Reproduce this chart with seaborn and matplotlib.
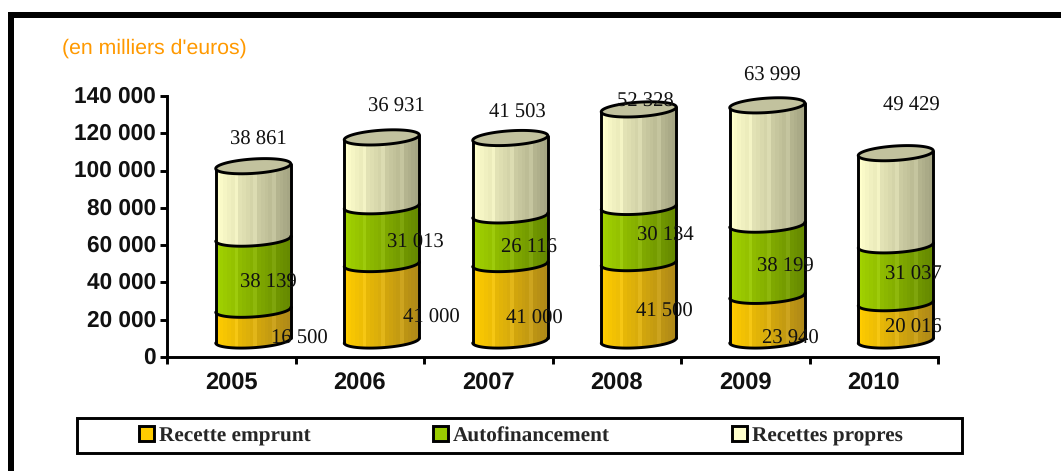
import numpy as np
import pandas as pd
import seaborn as sns
import matplotlib
matplotlib.use('Agg')
import matplotlib.pyplot as plt
from matplotlib.patches import Patch, Polygon, Rectangle
from matplotlib.transforms import ScaledTranslation

years = ['2005', '2006', '2007', '2008', '2009', '2010']
recette_emprunt = [16500, 41000, 41000, 41500, 23940, 20016]
autofinancement = [38139, 31013, 26116, 30134, 38199, 31037]
recettes_propres = [38861, 36931, 41503, 52328, 63999, 49429]
y_ticks = [0, 20000, 40000, 60000, 80000, 100000, 120000, 140000]

# label offsets from the middle of each segment, in pixels
emprunt_offsets = [(68.5, 2.8), (72, 1), (46.5, 0), (48, 6.5), (45.5, -4.1), (40, 10.5)]
auto_offsets = [(37.5, 7.9), (56, 8.9), (40.5, 8.4), (49, 15.8), (40.5, 10), (40, 16)]
propres_offsets = [(27.5, 79.1), (37, 81.5), (29.5, 80.4), (29, 72.9), (27.5, 105.7), (38, 110)]

W, H = 1061, 471
sns.set_theme(style='white')
plt.rcParams['font.family'] = ['Liberation Sans', 'DejaVu Sans']
plt.rcParams['text.hinting'] = 'none'

fig = plt.figure(figsize=(W / 100, H / 100), dpi=100)
ax = fig.add_axes([167 / W, (H - 357) / H, 771 / W, 261 / H])

df = pd.DataFrame({'year': years, 'emprunt': recette_emprunt, 'auto': autofinancement, 'propres': recettes_propres})
df['cum1'] = df['emprunt']
df['cum2'] = df['cum1'] + df['auto']
df['cum3'] = df['cum2'] + df['propres']

# stacked bars give the geometry, the cylinders get drawn on top of them
BAR_W = 75 / 128.5
sns.barplot(data=df, x='year', y='cum3', color='#ffffcc', width=BAR_W, ax=ax)
sns.barplot(data=df, x='year', y='cum2', color='#99cc00', width=BAR_W, ax=ax)
sns.barplot(data=df, x='year', y='cum1', color='#ffcc00', width=BAR_W, ax=ax)
ax.set_xlim(-0.5, 5.5)
ax.set_ylim(0, 140000)

PX_X = 1 / 128.5
PX_Y = 140000 / 261
DX = 22 * PX_X      # 3D shift of the cylinders
DY = 16.5 * PX_Y
B = 7.2 * PX_Y      # half height of the ellipses
SHEAR = 2.4 * PX_Y  # tilt
LW = 2.1


def curve(cx, a, y, t):
    return np.column_stack([cx + a * np.cos(t), y + B * np.sin(t) + SHEAR * np.cos(t)])


def cylinder(x0, width, y0, y1, light, dark, zorder):
    cx = x0 + width / 2 + DX
    a = width / 2
    t_low = np.linspace(np.pi, 2 * np.pi, 80)
    bottom = curve(cx, a, y0 + DY, t_low)
    top = curve(cx, a, y1 + DY, t_low)
    outline = np.vstack([bottom, top[::-1]])
    clip = Polygon(outline, closed=True, transform=ax.transData, facecolor='none', edgecolor='none')
    ax.add_patch(clip)
    light = np.array(matplotlib.colors.to_rgb(light))
    dark = np.array(matplotlib.colors.to_rgb(dark))
    steps = np.linspace(0, 1, 20)
    grad = light[None, :] * (1 - steps[:, None]) + dark[None, :] * steps[:, None]
    # thin pale stripes like the old excel shading
    grad[5::5] = np.clip(grad[5::5] + 0.05, 0, 1)
    im = ax.imshow(grad[None, :, :], extent=[cx - a, cx + a, y0, y1 + 2 * DY], aspect='auto',
                   interpolation='nearest', zorder=zorder, clip_on=True)
    im.set_clip_path(clip)
    for side in [cx - a, cx + a]:
        s = SHEAR if side > cx else -SHEAR
        ax.plot([side, side], [y0 + DY + s, y1 + DY + s], color='black', lw=LW, zorder=zorder + 1,
                solid_capstyle='round')
    ax.plot(bottom[:, 0], bottom[:, 1], color='black', lw=LW, zorder=zorder + 1, clip_on=False)
    return cx, a


segments = [('cum1', None, '#ffcc00', '#b08a18'),
            ('cum2', 'cum1', '#a2d200', '#668a00'),
            ('cum3', 'cum2', '#ffffcc', '#a6a684')]

positions = [p.get_x() for p in ax.patches[:6]]
for p in ax.patches:
    p.set_visible(False)

for i, x0 in enumerate(positions):
    z = 3
    for up, low, c1, c2 in segments:
        y0 = 0 if low is None else df[low][i]
        cx, a = cylinder(x0, BAR_W, y0, df[up][i], c1, c2, z)
        z += 2
    lid = curve(cx, a, df['cum3'][i] + DY, np.linspace(0, 2 * np.pi, 120))
    ax.add_patch(Polygon(lid, closed=True, facecolor='#c2c29e', edgecolor='black', lw=LW, zorder=z))

ax.set_xlim(-0.5, 5.5)
ax.set_ylim(0, 140000)

# value labels
label_font = dict(family='Liberation Serif', fontsize=14.9, color='#111111', ha='center', va='center',
                  zorder=20, annotation_clip=False)


def fmt(v):
    return f'{v:,}'.replace(',', ' ')


for i in range(len(years)):
    e, a2, p = recette_emprunt[i], autofinancement[i], recettes_propres[i]
    ax.annotate(fmt(e), (i, e / 2), xytext=emprunt_offsets[i], textcoords='offset pixels', **label_font)
    ax.annotate(fmt(a2), (i, e + a2 / 2), xytext=auto_offsets[i], textcoords='offset pixels', **label_font)
    ax.annotate(fmt(p), (i, e + a2 + p / 2), xytext=propres_offsets[i], textcoords='offset pixels', **label_font)

# axes
sns.despine(ax=ax)
for side in ['left', 'bottom']:
    ax.spines[side].set_linewidth(LW)
    ax.spines[side].set_color('black')
ax.set_xlabel('')
ax.set_ylabel('')
ax.set_yticks(y_ticks)
ax.set_yticklabels([fmt(v) for v in y_ticks], fontsize=16.3, fontweight='bold', color='#111111')
ax.set_xticks(np.arange(-0.5, 6, 1))
ax.set_xticklabels([])
ax.set_xticks(range(6), years, minor=True, fontsize=17, fontweight='bold', color='#111111')
ax.tick_params(axis='y', length=5, width=LW, color='black', left=True, pad=3)
ax.tick_params(axis='x', which='major', length=5, width=LW, color='black', bottom=True)
ax.tick_params(axis='x', which='minor', length=0, pad=11, bottom=False)
ax.grid(False)
for lab in ax.get_yticklabels():
    lab.set_transform(lab.get_transform() + ScaledTranslation(0, 1.2 / 72, fig.dpi_scale_trans))

# outer frame, runs off the picture on the right and bottom
fig.add_artist(Rectangle((8 / W, 0), 5.5 / W, (H - 12) / H, transform=fig.transFigure, facecolor='black', edgecolor='none'))
fig.add_artist(Rectangle((8 / W, (H - 18) / H), 1, 6 / H, transform=fig.transFigure, facecolor='black', edgecolor='none'))

fig.text(62 / W, (H - 48) / H, "(en milliers d'euros)", color='#ff9900', fontsize=15.3, va='center', ha='left')

# legend box
fig.add_artist(Rectangle((77 / W, (H - 452.5) / H), 885 / W, 34.5 / H, transform=fig.transFigure,
                         facecolor='white', edgecolor='black', lw=LW))
handles = [Patch(facecolor=c, edgecolor='black', lw=LW) for c in ['#ffcc00', '#99cc00', '#ffffcc']]
fig.legend(handles, ['Recette emprunt', 'Autofinancement', 'Recettes propres'],
           ncol=3, frameon=False, loc='center left', bbox_to_anchor=(139 / W, (H - 436) / H),
           borderaxespad=0, borderpad=0, handlelength=0.72, handleheight=0.72, handletextpad=0.24,
           columnspacing=5.72,
           prop={'family': 'Liberation Serif', 'weight': 'bold', 'size': 15.3})

fig.savefig('out.png', dpi=100)
